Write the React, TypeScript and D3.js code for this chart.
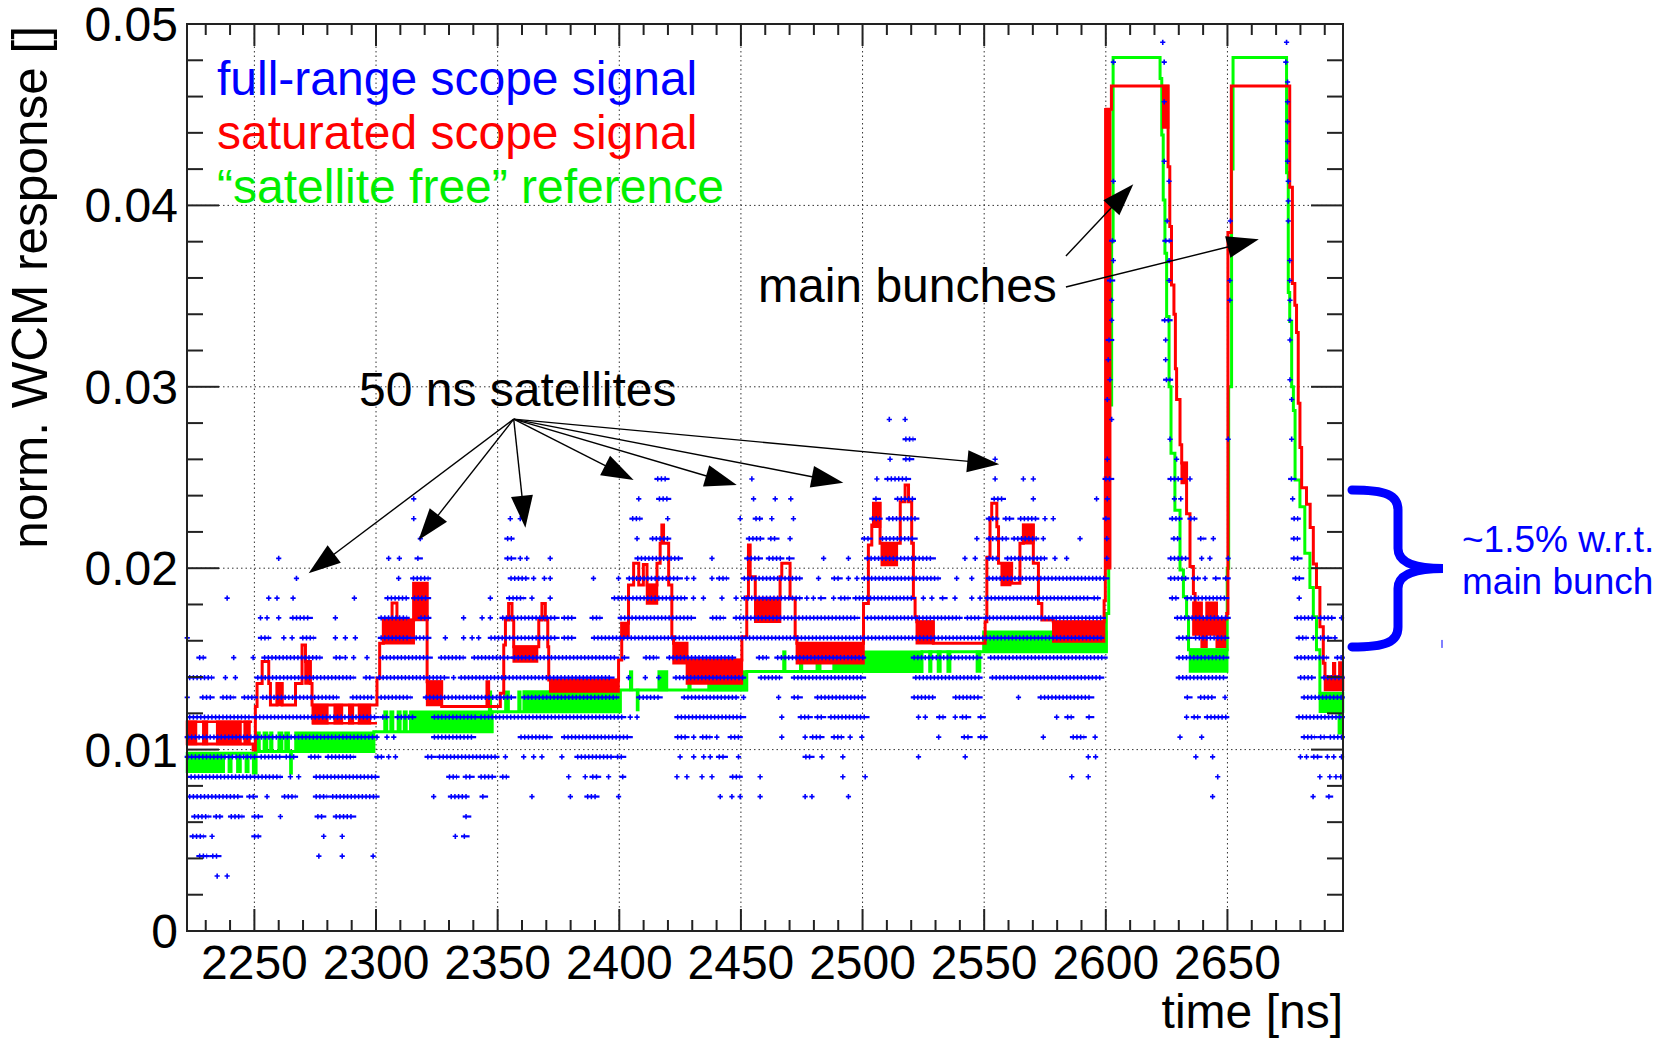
import React from 'react';
import * as d3 from 'd3';

const W = 1664;
const H = 1038;
const FONT = '"Liberation Sans", Arial, Helvetica, sans-serif';

// axes
const xDomain = [2222.3, 2697.5];
const yDomain = [0, 0.05];
const xMajorTicks = [2250, 2300, 2350, 2400, 2450, 2500, 2550, 2600, 2650];
const yMajorTicks = [0, 0.01, 0.02, 0.03, 0.04, 0.05];
const yTickLabels = ['0', '0.01', '0.02', '0.03', '0.04', '0.05'];

// quantised levels of the full-range scope (blue points)
const blueLevels = [
  0.00303, 0.00413, 0.00522, 0.00631, 0.00741, 0.0085, 0.0096, 0.01069, 0.01179, 0.01288,
  0.01397, 0.01507, 0.01616, 0.01726, 0.01835, 0.01944, 0.02054, 0.02163, 0.02273, 0.02382,
  0.02492, 0.02601, 0.02711, 0.0282, 0.0293, 0.03039, 0.03149, 0.03258, 0.03367, 0.03477,
  0.03586, 0.03696, 0.03805, 0.03914, 0.04024, 0.04133, 0.04243, 0.04352, 0.04462, 0.04571,
  0.0468, 0.0479, 0.04899,
];

// blue points per level: a number is one point, a pair is a dense run of points
const blue00 = [2234.7, 2238.8];
const blue01 = [[2227.2, 2230.6], [2232.6, 2235.4], 2276.5, 2286.1, 2298.8];
const blue02 = [[2224.4, 2229.2], 2232.6, [2249.8, 2251.8], 2278.5, 2286.1, 2332.6, [2336.0, 2337.4]];
const blue03 = [[2225.1, 2231.3], [2234.0, 2236.1], [2240.2, 2245.0], [2249.8, 2252.5], 2260.7, [2275.8, 2278.5],
  [2283.3, 2290.8], [2336.7, 2338.1]];
const blue04 = [[2223.1, 2244.3], [2247.7, 2250.4], 2255.2, [2262.1, 2266.9], [2275.1, 2279.9], [2281.9, 2300.4],
  2323.7, [2330.6, 2337.4], [2343.6, 2345.0], 2364.1, 2379.9, [2386.7, 2390.8], 2399.7, 2441.5, 2446.3, 2449.7,
  2457.9, 2476.4, 2479.2, 2494.2, 2643.9, 2685.2, [2691.4, 2692.4]];
const blue05 = [[2223.7, 2249.1], [2249.8, 2260.7], 2264.8, 2268.2, [2275.1, 2300.4], [2329.9, 2333.3],
  [2336.7, 2339.5], [2342.9, 2348.4], [2351.8, 2353.8], 2379.2, 2386.0, [2388.8, 2391.5], 2395.6, [2401.1, 2401.8],
  2423.7, 2427.8, 2434.0, 2438.1, [2446.3, 2449.7], 2457.9, 2491.9, 2501.1, 2586.0, 2592.8, 2646.0, 2688.0, 2692.1,
  2694.6, 2696.6];
const blue06 = [[2222.4, 2250.4], [2252.5, 2260.7], [2262.8, 2266.9], [2273.0, 2276.5], [2280.0, 2290.8],
  [2300.4, 2302.5], 2305.2, 2308.0, [2321.0, 2323.7], [2325.8, 2349.7], 2353.2, 2360.7, 2364.8, 2368.2, 2376.4,
  [2382.6, 2397.0], [2399.0, 2401.8], 2425.0, 2430.6, 2434.7, 2437.4, [2440.8, 2443.6], 2449.0, [2476.4, 2479.2],
  2483.3, 2491.9, 2523.0, 2542.2, 2592.8, 2595.8, 2637.0, 2643.9, 2680.0, 2682.5, [2685.2, 2688.0], 2691.1, 2693.7,
  2696.9];
const blue07 = [[2222.4, 2250.4], [2251.1, 2299.1], 2300.4, 2304.5, 2307.3, [2323.7, 2340.1], [2359.3, 2371.6],
  [2377.1, 2404.5], [2423.7, 2427.8], 2430.6, [2434.0, 2437.4], 2440.1, [2445.6, 2449.7], 2466.8, 2476.4,
  [2479.2, 2483.3], [2488.0, 2491.5], 2494.9, 2499.7, 2531.3, [2541.5, 2544.2], [2548.3, 2550.4], 2574.3,
  [2586.3, 2591.1], 2595.6, 2630.5, 2639.4, [2681.2, 2686.0], [2688.0, 2690.0], [2692.0, 2697.2]];
const blue08 = [[2223.1, 2249.1], [2250.4, 2300.4], [2302.5, 2304.5], [2308.6, 2315.5], [2323.7, 2341.5],
  [2342.9, 2401.8], 2404.5, 2407.3, [2423.7, 2451.1], 2466.8, [2474.4, 2478.5], [2481.2, 2484.0], [2486.7, 2501.8],
  2523.0, 2525.8, [2531.3, 2533.3], 2538.1, [2540.8, 2543.6], [2548.3, 2549.6], 2579.8, [2584.0, 2586.0],
  [2592.8, 2594.2], 2633.2, [2636.0, 2638.0], [2641.4, 2649.7], [2679.1, 2697.2]];
const blue09 = [2222.4, [2228.5, 2232.6], [2236.8, 2241.5], [2245.6, 2250.4], [2253.2, 2284.0], [2290.2, 2298.4],
  [2301.8, 2314.1], [2320.3, 2356.6], [2360.7, 2399.0], [2408.0, 2416.8], [2426.4, 2448.3], 2451.1, 2465.5,
  [2471.6, 2474.4], [2481.2, 2500.4], [2520.9, 2529.1], [2538.0, 2548.3], 2564.1, [2573.0, 2594.2],
  [2633.2, 2634.6], [2638.7, 2644.2], 2649.0, [2681.2, 2697.2]];
const blue10 = [[2223.1, 2232.6], 2238.1, 2242.2, [2251.1, 2290.8], [2295.6, 2298.4], [2301.1, 2320.3],
  [2321.7, 2329.2], 2331.9, [2334.7, 2397.0], 2403.8, 2410.7, 2416.2, [2423.0, 2451.1], [2458.0, 2466.1],
  [2471.6, 2500.4], [2521.6, 2548.3], [2553.1, 2598.3], [2629.8, 2649.0], [2679.8, 2685.3], [2689.4, 2697.2]];
const blue11 = [[2227.2, 2229.2], 2241.5, 2249.5, [2253.9, 2277.1], [2283.3, 2285.4], 2287.4, 2290.8, 2296.3,
  [2302.5, 2322.3], [2326.5, 2336.0], [2340.1, 2355.2], [2356.6, 2399.0], [2401.8, 2403.1], [2410.7, 2415.5],
  [2420.3, 2447.0], [2457.2, 2460.7], [2464.8, 2500.4], [2520.9, 2548.3], [2552.4, 2599.7], [2629.8, 2649.7],
  [2678.4, 2690.8], [2694.9, 2697.2]];
const blue12 = [2222.4, [2252.5, 2255.9], 2262.1, 2265.5, [2269.6, 2274.4], 2283.3, 2287.4, 2291.5,
  [2301.8, 2314.1], [2316.2, 2321.7], 2328.5, 2336.0, 2339.5, 2342.2, [2347.0, 2356.6], [2357.9, 2374.4],
  [2377.1, 2381.2], [2389.4, 2598.3], [2629.8, 2634.6], [2636.6, 2649.7], [2679.1, 2682.5], 2685.3,
  [2688.0, 2692.1], 2694.2];
const blue13 = [2252.5, 2255.2, 2260.0, [2265.5, 2273.0], 2283.3, [2301.8, 2312.8], [2318.2, 2321.7], 2336.0,
  2343.6, 2347.0, [2351.8, 2374.4], [2377.1, 2381.2], [2388.8, 2392.2], [2400.4, 2430.5], [2438.1, 2442.9],
  [2447.7, 2498.0], [2501.7, 2540.1], [2542.8, 2548.3], [2550.4, 2599.0], [2629.1, 2650.3], [2678.4, 2685.3],
  [2688.0, 2693.5], 2696.9];
const blue14 = [2238.8, 2255.9, 2259.3, 2265.9, 2291.1, [2304.5, 2312.7], [2315.5, 2321.6], 2347.0,
  [2354.5, 2360.7], 2364.1, 2371.6, [2397.7, 2427.1], 2430.5, 2434.6, 2442.2, 2448.0, [2451.1, 2474.4], 2477.1,
  2479.8, [2482.6, 2484.0], 2488.1, [2490.8, 2494.2], [2496.9, 2520.9], 2525.0, 2528.5, [2532.6, 2533.9], 2538.0,
  2544.9, 2548.3, [2551.1, 2593.5], [2594.9, 2596.9], [2627.0, 2629.1], [2633.2, 2649.7], 2679.5];
const blue15 = [2267.3, 2309.3, [2315.1, 2321.6], [2355.2, 2362.0], 2364.8, 2369.2, 2371.6, 2389.4, 2399.7,
  [2403.8, 2425.1], 2427.8, 2430.6, 2438.1, [2440.8, 2444.2], [2451.1, 2474.4], 2481.9, [2488.1, 2490.8], 2494.2,
  2497.7, [2500.4, 2531.2], 2538.7, 2544.9, [2551.7, 2600.4], [2626.4, 2633.2], [2636.0, 2638.0], 2640.8,
  [2644.9, 2646.2], [2649.0, 2650.3], [2677.7, 2680.5]];
const blue16 = [2260.0, 2305.2, 2309.6, [2316.9, 2318.2], [2353.8, 2356.6], 2359.3, 2362.0, 2371.6,
  [2407.3, 2425.1], 2438.1, [2452.4, 2458.0], [2461.3, 2466.8], [2469.6, 2471.0], 2484.0, 2494.2, [2501.7, 2529.1],
  2542.1, 2546.3, [2551.7, 2555.2], [2559.3, 2575.0], 2579.1, 2583.9, 2600.4, [2626.4, 2633.2], 2639.4, 2642.8,
  2650.3, [2677.0, 2679.8]];
const blue17 = [2318.2, [2353.8, 2355.9], 2407.3, [2413.4, 2420.3], [2453.1, 2458.6], [2462.0, 2464.8], 2470.2,
  [2500.4, 2503.1], [2507.9, 2521.6], 2547.0, [2551.7, 2555.2], [2557.2, 2559.3], [2562.0, 2571.6], 2574.3, 2589.4,
  2600.4, [2627.7, 2629.8], [2638.7, 2640.3], 2644.2, [2677.0, 2679.0]];
const blue18 = [2315.5, 2355.2, 2359.3, [2405.2, 2408.6], 2419.9, 2449.7, [2455.9, 2458.0], 2462.7, 2471.6,
  [2503.8, 2507.2], [2510.6, 2522.3], [2551.7, 2555.2], [2558.6, 2561.3], [2564.7, 2571.6], 2575.0, 2578.4,
  [2599.7, 2600.6], [2627.0, 2630.5], [2634.6, 2636.6], [2677.1, 2679.1]];
const blue19 = [2315.5, 2408.0, [2416.2, 2420.3], 2455.2, 2464.1, 2470.5, [2505.2, 2506.5], [2514.1, 2520.9],
  [2553.8, 2557.9], 2570.2, 2596.2, 2600.6, 2628.2, 2630.8, 2676.8];
const blue20 = [[2415.5, 2419.6], 2454.5, 2505.9, [2510.0, 2518.9], 2554.5, 2566.1, 2570.2, [2599.7, 2602.4],
  [2626.4, 2630.5], 2634.6, [2676.0, 2677.3]];
const blue21 = [2511.3, [2517.5, 2520.2], 2554.5, 2600.6, 2629.1];
const blue22 = [[2517.5, 2520.9], 2626.4, 2650.3, 2676.4];
const blue23 = [2511.0, 2517.5, 2602.4];
const blue24 = [2600.6, 2676.4];
const blue25 = [2601.7, [2624.6, 2626.6], 2675.7];
const blue26 = [2601.0, 2624.6];
const blue27 = [[2601.0, 2602.4], 2624.6, 2675.7];
const blue28 = [2602.4, [2623.9, 2626.4], 2675.7];
const blue29 = [2602.4, 2651.0, 2675.7];
const blue30 = [[2601.5, 2602.8], 2626.0, 2651.0, 2675.6];
const blue31 = [2603.1, 2626.0, 2675.6];
const blue32 = [[2602.4, 2603.1], [2624.3, 2626.3], 2651.0];
const blue33 = [2625.2, 2651.2, 2675.0];
const blue34 = [2675.0];
const blue35 = [2603.1, 2626.0, 2675.0];
const blue36 = [2624.0, 2674.7];
const blue37 = [2674.7];
const blue38 = [2674.7];
const blue39 = [2624.0, 2674.7];
const blue40 = [2674.7];
const blue41 = [2603.1, 2624.0, 2674.0];
const blue42 = [2623.4, 2674.3];
const blueRows = [blue00, blue01, blue02, blue03, blue04, blue05, blue06, blue07, blue08, blue09, blue10, blue11,
  blue12, blue13, blue14, blue15, blue16, blue17, blue18, blue19, blue20, blue21, blue22, blue23, blue24, blue25,
  blue26, blue27, blue28, blue29, blue30, blue31, blue32, blue33, blue34, blue35, blue36, blue37, blue38, blue39,
  blue40, blue41, blue42];

// saturated scope signal: [time, value] where the trace steps to a new value
const redSteps = [
  [2222.3, 0.01031], [2249.5, 0.00998], [2250.4, 0.01237], [2251.1, 0.01365], [2253.2, 0.01485],
  [2255.9, 0.01365], [2256.6, 0.01246], [2259.3, 0.01365], [2261.4, 0.01246], [2266.9, 0.01365],
  [2269.6, 0.01577], [2271.0, 0.01485], [2273.0, 0.01365], [2273.7, 0.01246], [2300.4, 0.01393],
  [2301.5, 0.01586], [2303.0, 0.01714], [2306.6, 0.01808], [2308.6, 0.01714], [2315.5, 0.01917],
  [2321.0, 0.01374], [2327.0, 0.01237], [2345.6, 0.01374], [2346.3, 0.01237], [2351.1, 0.0131],
  [2352.5, 0.01577], [2353.2, 0.01714], [2354.5, 0.01806], [2355.9, 0.01714], [2356.6, 0.01567],
  [2366.9, 0.01714], [2368.2, 0.01806], [2369.6, 0.01714], [2370.6, 0.01567], [2371.0, 0.01384],
  [2399.7, 0.01494], [2401.0, 0.01696], [2403.8, 0.01907], [2405.9, 0.02027], [2408.0, 0.01907],
  [2409.9, 0.0202], [2411.4, 0.01907], [2415.5, 0.02027], [2416.8, 0.02137], [2417.5, 0.02238],
  [2418.2, 0.02137], [2420.3, 0.01907], [2421.6, 0.01622], [2422.3, 0.01586], [2427.8, 0.01494],
  [2450.4, 0.01622], [2452.4, 0.01843], [2453.1, 0.02128], [2453.8, 0.01953], [2455.9, 0.01834],
  [2466.1, 0.01953], [2466.8, 0.02027], [2470.2, 0.01834], [2472.3, 0.01622], [2473.0, 0.01586],
  [2500.4, 0.01806], [2502.4, 0.02128], [2503.8, 0.02238], [2504.5, 0.02358], [2507.2, 0.02137],
  [2515.5, 0.02367], [2517.5, 0.02459], [2518.9, 0.02367], [2520.2, 0.02137], [2520.9, 0.01834],
  [2521.6, 0.01733], [2522.3, 0.01705], [2529.1, 0.01586], [2550.4, 0.01705], [2551.1, 0.0206],
  [2552.4, 0.02275], [2553.1, 0.02358], [2555.2, 0.02228], [2555.9, 0.02027], [2561.3, 0.01917],
  [2564.7, 0.02137], [2566.1, 0.02238], [2570.2, 0.02027], [2572.3, 0.01806], [2573.7, 0.01714],
  [2578.4, 0.01705], [2599.3, 0.0182], [2599.8, 0.025], [2600.3, 0.0453], [2602.3, 0.04658],
  [2625.6, 0.04213], [2626.3, 0.03883], [2627.0, 0.03561], [2628.0, 0.034], [2628.6, 0.031],
  [2629.1, 0.0293], [2630.5, 0.0268], [2631.2, 0.0258], [2633.2, 0.023], [2634.6, 0.0201],
  [2636.0, 0.0186], [2636.7, 0.0172], [2649.7, 0.0175], [2650.2, 0.0385], [2651.6, 0.04658],
  [2675.6, 0.041], [2676.7, 0.0357], [2677.7, 0.0345], [2678.4, 0.033], [2679.1, 0.0291],
  [2679.8, 0.02665], [2680.5, 0.02444], [2682.5, 0.02353], [2684.0, 0.02224], [2685.3, 0.02023],
  [2686.6, 0.01893], [2688.0, 0.01677], [2689.4, 0.01476], [2690.1, 0.01402], [2697.5, 0.01402],
];
// regions where the saturated trace jitters between two values: [t0, t1, low, high]
const redBands = [
  [2222.3, 2226.0, 0.01031, 0.01154], [2222.3, 2249.1, 0.01154, 0.01154], [2229.0, 2230.5, 0.01031, 0.01154],
  [2234.7, 2244.3, 0.01031, 0.01154], [2246.0, 2248.0, 0.01031, 0.01154], [2259.3, 2261.4, 0.01246, 0.01365],
  [2271.0, 2273.0, 0.01365, 0.01485], [2273.7, 2300.4, 0.01145, 0.01145], [2274.0, 2280.0, 0.01145, 0.01246],
  [2283.0, 2286.0, 0.01145, 0.01246], [2289.0, 2290.5, 0.01145, 0.01246], [2293.0, 2297.5, 0.01145, 0.01246],
  [2303.0, 2315.5, 0.01586, 0.01714], [2315.5, 2321.0, 0.01714, 0.01917], [2321.0, 2327.0, 0.01246, 0.01374],
  [2356.6, 2366.2, 0.01485, 0.01567], [2371.6, 2399.7, 0.0132, 0.01384], [2401.0, 2403.8, 0.01622, 0.01696],
  [2411.4, 2415.5, 0.01806, 0.01907], [2422.3, 2427.8, 0.01476, 0.01586], [2427.8, 2450.4, 0.01365, 0.01494],
  [2455.9, 2466.1, 0.01705, 0.01834], [2473.0, 2500.4, 0.01476, 0.01586], [2504.5, 2507.2, 0.02228, 0.02358],
  [2507.9, 2514.1, 0.02018, 0.02137], [2522.3, 2529.1, 0.01586, 0.01705], [2557.2, 2560.7, 0.01907, 0.02027],
  [2566.1, 2570.2, 0.02137, 0.02238], [2578.4, 2599.3, 0.01596, 0.01705], [2599.8, 2601.8, 0.02, 0.0453],
  [2623.6, 2625.6, 0.0443, 0.04658], [2631.2, 2633.2, 0.0247, 0.0258], [2636.0, 2639.4, 0.01634, 0.0181],
  [2639.4, 2641.4, 0.01567, 0.01714], [2641.4, 2645.6, 0.01634, 0.0181], [2645.6, 2649.0, 0.01567, 0.01714],
  [2690.1, 2697.5, 0.01329, 0.01402], [2693.5, 2694.2, 0.01402, 0.01476], [2696.0, 2697.0, 0.01402, 0.0148],
];

// "satellite free" reference
const greenSteps = [
  [2222.3, 0.0098], [2250.4, 0.0099], [2299.1, 0.01099], [2347.7, 0.01209], [2400.4, 0.01329],
  [2452.4, 0.0143], [2524.4, 0.0154], [2600.2, 0.0175], [2601.2, 0.029], [2602.4, 0.038],
  [2603.0, 0.04816], [2622.3, 0.047], [2623.0, 0.04388], [2623.6, 0.0403], [2624.3, 0.03736],
  [2625.0, 0.03388], [2626.0, 0.03], [2626.8, 0.02633], [2628.4, 0.0232], [2630.5, 0.0199],
  [2631.9, 0.01843], [2633.2, 0.0173], [2634.0, 0.0155], [2649.9, 0.02], [2650.5, 0.03],
  [2651.7, 0.042], [2652.3, 0.04816], [2674.3, 0.0418], [2675.0, 0.0352], [2675.6, 0.0336],
  [2676.4, 0.03], [2677.1, 0.0287], [2677.8, 0.02486], [2679.8, 0.02339], [2681.8, 0.02082],
  [2683.9, 0.01893], [2685.3, 0.01733], [2686.6, 0.0155], [2688.0, 0.0131], [2697.5, 0.0131],
];
const greenBands = [
  [2222.3, 2237.4, 0.00878, 0.0098], [2239.5, 2240.5, 0.00878, 0.0098], [2243.0, 2244.3, 0.00878, 0.0098],
  [2246.5, 2247.5, 0.00878, 0.0098], [2249.5, 2250.8, 0.00869, 0.0098], [2251.1, 2252.1, 0.0099, 0.01093],
  [2253.9, 2255.2, 0.0099, 0.01093], [2256.6, 2257.3, 0.0099, 0.01093], [2260.0, 2261.4, 0.0099, 0.01093],
  [2262.8, 2264.1, 0.0099, 0.01093], [2264.8, 2265.3, 0.00869, 0.0099], [2266.9, 2299.1, 0.0099, 0.01093],
  [2303.5, 2304.5, 0.01099, 0.01209], [2306.0, 2307.0, 0.01099, 0.01209], [2309.0, 2310.0, 0.01099, 0.01209],
  [2311.5, 2312.5, 0.01099, 0.01209], [2314.1, 2347.7, 0.01099, 0.01209], [2346.5, 2347.2, 0.01209, 0.01319],
  [2353.2, 2354.5, 0.01209, 0.01319], [2358.6, 2359.3, 0.01209, 0.01319], [2360.7, 2400.4, 0.01209, 0.0132],
  [2404.5, 2405.2, 0.01329, 0.0143], [2407.3, 2407.8, 0.01218, 0.01329], [2416.2, 2419.6, 0.01329, 0.0143],
  [2428.5, 2429.2, 0.01329, 0.0143], [2436.7, 2452.4, 0.01329, 0.0143], [2467.5, 2468.2, 0.0143, 0.0154],
  [2474.4, 2475.1, 0.0143, 0.0154], [2481.2, 2482.6, 0.0143, 0.0154], [2488.1, 2524.4, 0.0143, 0.0154],
  [2527.5, 2528.2, 0.0143, 0.0154], [2531.0, 2532.0, 0.0143, 0.0154], [2535.0, 2536.0, 0.0143, 0.0154],
  [2547.0, 2548.3, 0.0143, 0.0154], [2549.7, 2600.2, 0.0154, 0.0165], [2634.6, 2649.9, 0.0143, 0.0155],
  [2688.0, 2697.5, 0.01209, 0.0131], [2695.8, 2696.6, 0.0109, 0.01209],
];

// annotation arrows, in data coordinates
const satArrowFrom = [2356.6, 0.02822];
const satArrowTo = [
  [2272.3, 0.01972], [2317.5, 0.02155], [2361.4, 0.02223], [2405.9, 0.02486],
  [2448.3, 0.02459], [2492.1, 0.02471], [2556.2, 0.02573],
];
const bunchArrows = [
  [[2583.6, 0.03721], [2611.3, 0.04116]],
  [[2583.6, 0.0355], [2662.9, 0.03813]],
];
const braceRange = [0.01566, 0.02431];

const legendItems = [
  { text: 'full-range scope signal', color: '#0000ff' },
  { text: 'saturated scope signal', color: '#ff0000' },
  { text: '\u201csatellite free\u201d reference', color: '#00ee00' },
];

const L = 187, R = 1343, T = 24, B = 931;

function Arrow({ from, to }) {
  const [x1, y1] = from;
  const [x2, y2] = to;
  const dx = x2 - x1, dy = y2 - y1;
  const len = Math.sqrt(dx * dx + dy * dy);
  const ux = dx / len, uy = dy / len;
  const hl = 32, hw = 11;
  const bx = x2 - ux * hl, by = y2 - uy * hl;
  const pts = [[x2, y2], [bx - uy * hw, by + ux * hw], [bx + uy * hw, by - ux * hw]];
  return (
    <g>
      <line x1={x1} y1={y1} x2={bx + ux * 4} y2={by + uy * 4} stroke="#000" strokeWidth={1.4} />
      <polygon points={pts.map(p => p.join(',')).join(' ')} fill="#000" />
    </g>
  );
}

export default function App() {
  const x = d3.scaleLinear().domain(xDomain).range([L, R]);
  const y = d3.scaleLinear().domain(yDomain).range([B, T]);
  const xMinor = d3.range(2230, 2695, 10).filter(t => t % 50 !== 0);
  const yMinor = d3.range(0.002, 0.05, 0.002).filter(v => Math.abs(v * 100 - Math.round(v * 100)) > 1e-6);

  const step = d3.line().x(d => x(d[0])).y(d => y(d[1])).curve(d3.curveStepAfter);
  const band = b => `M${x(b[0])},${y(b[3])}H${x(b[1])}V${y(b[2])}H${x(b[0])}Z`;

  const pt = p => [x(p[0]), y(p[1])];
  const yTop = y(braceRange[1]), yBot = y(braceRange[0]), yMid = (yTop + yBot) / 2;
  const brace = `M1352,${yTop} C1386,${yTop} 1398,${yTop + 5} 1398,${yTop + 20} L1398,${yMid - 20} C1398,${yMid - 5} 1418,${yMid} 1443,${yMid} C1418,${yMid} 1398,${yMid + 5} 1398,${yMid + 20} L1398,${yBot - 20} C1398,${yBot - 5} 1386,${yBot} 1352,${yBot}`;

  return (
    <svg width={W} height={H} style={{ position: 'absolute', left: 0, top: 0, background: '#fff' }}
      fontFamily={FONT}>
      <rect x={0} y={0} width={W} height={H} fill="#fff" />
      {/* grid */}
      <g stroke="#333" strokeWidth={1} strokeDasharray="1.5 3">
        {xMajorTicks.map(t => <line key={t} x1={x(t)} x2={x(t)} y1={T} y2={B} />)}
        {yMajorTicks.slice(1, -1).map(v => <line key={v} x1={L} x2={R} y1={y(v)} y2={y(v)} />)}
      </g>

      {/* reference (green) */}
      <g fill="#00ff00" stroke="#00ff00" strokeWidth={2.5}>
        {greenBands.map((b, i) => <path key={i} d={band(b)} />)}
      </g>
      <path d={step(greenSteps)} fill="none" stroke="#00ff00" strokeWidth={3} />

      {/* saturated (red) */}
      <g fill="#ff0000" stroke="#ff0000" strokeWidth={2.5}>
        {redBands.map((b, i) => <path key={i} d={band(b)} />)}
      </g>
      <path d={step(redSteps)} fill="none" stroke="#ff0000" strokeWidth={3} />

      {/* full-range (blue points) */}
      <g stroke="#0000ff" strokeWidth={1.6} fill="none">
        {blueRows.map((row, k) => {
          const yy = y(blueLevels[k]);
          return row.map((it, i) => {
            if (typeof it === 'number') {
              const xx = x(it);
              return <path key={k + '-' + i} d={`M${xx - 2.6},${yy}h5.2M${xx},${yy - 2.6}v5.2`} />;
            }
            const x0 = x(it[0]), x1 = x(it[1]);
            return (
              <g key={k + '-' + i}>
                <line x1={x0 - 2.6} x2={x1 + 2.6} y1={yy} y2={yy} strokeWidth={2.2} />
                <line x1={x0} x2={x1} y1={yy} y2={yy} strokeWidth={5.2} strokeDasharray="1.5 2.2" />
              </g>
            );
          });
        })}
      </g>

      {/* frame and ticks */}
      <g stroke="#222" strokeWidth={2}>
        {xMajorTicks.map(t => <g key={t}>
          <line x1={x(t)} x2={x(t)} y1={B} y2={B - 22} />
          <line x1={x(t)} x2={x(t)} y1={T} y2={T + 22} />
        </g>)}
        {xMinor.map(t => <g key={t}>
          <line x1={x(t)} x2={x(t)} y1={B} y2={B - 11} />
          <line x1={x(t)} x2={x(t)} y1={T} y2={T + 11} />
        </g>)}
        {yMajorTicks.map(v => <g key={v}>
          <line x1={L} x2={L + 32} y1={y(v)} y2={y(v)} />
          <line x1={R} x2={R - 32} y1={y(v)} y2={y(v)} />
        </g>)}
        {yMinor.map(v => <g key={v}>
          <line x1={L} x2={L + 16} y1={y(v)} y2={y(v)} />
          <line x1={R} x2={R - 16} y1={y(v)} y2={y(v)} />
        </g>)}
        <rect x={L} y={T} width={R - L} height={B - T} fill="none" />
      </g>

      {/* tick labels */}
      <g fontSize={48} fill="#000">
        {xMajorTicks.map(t => <text key={t} x={x(t)} y={979} textAnchor="middle">{t}</text>)}
        {yMajorTicks.map((v, i) => <text key={v} x={178} y={y(v) + 17} textAnchor="end">{yTickLabels[i]}</text>)}
        <text x={R} y={1028} textAnchor="end">time [ns]</text>
        <text transform={`translate(47,${T + 2}) rotate(-90)`} textAnchor="end" fontSize={49.5}>norm. WCM response []</text>
      </g>

      {/* legend */}
      <g fontSize={48}>
        {legendItems.map((d, i) => <text key={i} x={217} y={95 + i * 54} fill={d.color}>{d.text}</text>)}
      </g>

      {/* annotations */}
      <g fontSize={48} fill="#000">
        <text x={359} y={406}>50 ns satellites</text>
        <text x={758} y={302}>main bunches</text>
      </g>
      {satArrowTo.map((p, i) => <Arrow key={i} from={pt(satArrowFrom)} to={pt(p)} />)}
      {bunchArrows.map((a, i) => <Arrow key={'b' + i} from={pt(a[0])} to={pt(a[1])} />)}

      <path d={brace} fill="none" stroke="#0000ff" strokeWidth={9} strokeLinecap="round" />
      <line x1={1442} x2={1442} y1={yBot - 7} y2={yBot + 1} stroke="#0000ff" strokeWidth={1} />
      <g fontSize={37} fill="#0000ff">
        <text x={1462} y={552}>~1.5% w.r.t.</text>
        <text x={1462} y={594}>main bunch</text>
      </g>
    </svg>
  );
}
